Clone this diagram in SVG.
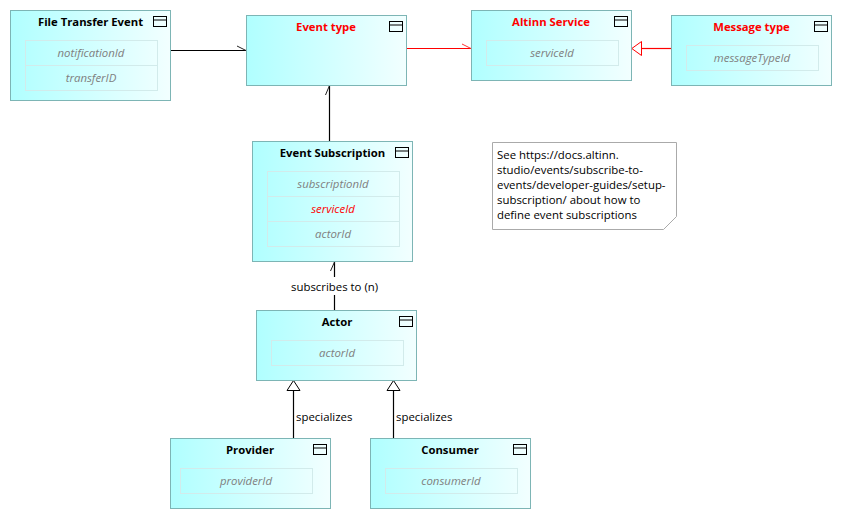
<svg xmlns="http://www.w3.org/2000/svg" width="842" height="519" viewBox="0 0 842 519">
<style>
text{font-family:"Open Sans","Noto Sans","Liberation Sans",sans-serif;font-size:11.4px;fill:#000}
.n{fill:url(#g);stroke:#7db5b5;stroke-width:1}
.a{fill:none;stroke:#d2ebeb;stroke-width:1}
.i{fill:none;stroke:#000;stroke-width:1}
.t{font-weight:700;text-anchor:middle;fill:#000;font-size:11.3px}
.r{fill:#f00}
.v{font-style:italic;text-anchor:middle;fill:#808080}
.c{fill:none;stroke:#000;stroke-width:1.2}
.cr{fill:none;stroke:#f00;stroke-width:1.2}
.h{fill:#fff;stroke:#000;stroke-width:1}
.tick{fill:none;stroke:#222;stroke-width:1}
</style>
<defs>
<linearGradient id="g" x1="0" y1="0" x2="1" y2="0"><stop offset="0" stop-color="#b0ffff"/><stop offset="1" stop-color="#f2ffff"/></linearGradient>
<g id="ic"><rect class="i" x="0" y="0" width="13" height="10"/><line class="i" x1="0" y1="3.5" x2="13" y2="3.5"/></g>
</defs>
<rect width="842" height="519" fill="#fff"/>
<g id="connectors">
<path class="c" d="M170 50.5H246"/><path class="tick" d="M237 46L246 50.5"/>
<path class="c" d="M329.5 141V85.5"/><path class="tick" d="M325.5 95L329.5 85.5"/>
<path class="cr" d="M406 48.5H471"/><path class="tick" style="stroke:#f33" d="M462 44L471 48.5"/>
<path class="cr" d="M641.5 48.5H671"/><path d="M631.8 48.5L641.5 41.5V55.5Z" fill="#fff" stroke="#f00"/>
<path class="c" d="M334.5 310V295M334.5 277V262"/><path class="tick" d="M330.5 271L334.5 262"/>
<path class="c" d="M293.5 438V390.5"/><path class="h" d="M293.5 380.5L287 390.5H300Z"/>
<path class="c" d="M393.5 438V390.5"/><path class="h" d="M393.5 380.5L387 390.5H400Z"/>
<text x="291" y="291">subscribes to (n)</text>
<text x="296" y="421">specializes</text>
<text x="396" y="421">specializes</text>
</g>
<g id="file-transfer-event">
<rect class="n" x="10.5" y="10.5" width="160" height="90"/><use href="#ic" x="153.5" y="16.5"/>
<text class="t" x="90.5" y="26">File Transfer Event</text>
<rect class="a" x="25.5" y="40.5" width="132" height="25"/><rect class="a" x="25.5" y="65.5" width="132" height="25"/>
<text class="v" x="91" y="57">notificationId</text><text class="v" x="91" y="82">transferID</text>
</g>
<g id="event-type">
<rect class="n" x="246.5" y="15.5" width="160" height="70"/><use href="#ic" x="389.5" y="21.5"/>
<text class="t r" x="326" y="31">Event type</text>
</g>
<g id="altinn-service">
<rect class="n" x="471.5" y="10.5" width="160" height="70"/><use href="#ic" x="614.5" y="16.5"/>
<text class="t r" x="551" y="26">Altinn Service</text>
<rect class="a" x="486.5" y="40.5" width="132" height="25"/>
<text class="v" x="552" y="57">serviceId</text>
</g>
<g id="message-type">
<rect class="n" x="671.5" y="15.5" width="160" height="70"/><use href="#ic" x="814.5" y="21.5"/>
<text class="t r" x="751.5" y="31">Message type</text>
<rect class="a" x="686.5" y="45.5" width="132" height="25"/>
<text class="v" x="752" y="62">messageTypeId</text>
</g>
<g id="event-subscription">
<rect class="n" x="252.5" y="141.5" width="160" height="120"/><use href="#ic" x="395.5" y="147.5"/>
<text class="t" x="332.5" y="157">Event Subscription</text>
<rect class="a" x="267.5" y="171.5" width="132" height="25"/><rect class="a" x="267.5" y="196.5" width="132" height="25"/><rect class="a" x="267.5" y="221.5" width="132" height="25"/>
<text class="v" x="333" y="188">subscriptionId</text><text class="v" style="fill:#f00" x="333" y="213">serviceId</text><text class="v" x="333" y="238">actorId</text>
</g>
<g id="actor">
<rect class="n" x="256.5" y="310.5" width="160" height="70"/><use href="#ic" x="399.5" y="316.5"/>
<text class="t" x="337" y="326">Actor</text>
<rect class="a" x="271.5" y="340.5" width="132" height="25"/>
<text class="v" x="337" y="357">actorId</text>
</g>
<g id="provider">
<rect class="n" x="170.5" y="438.5" width="160" height="70"/><use href="#ic" x="313.5" y="444.5"/>
<text class="t" x="250" y="454">Provider</text>
<rect class="a" x="180.5" y="468.5" width="132" height="25"/>
<text class="v" x="246" y="485">providerId</text>
</g>
<g id="consumer">
<rect class="n" x="370.5" y="438.5" width="160" height="70"/><use href="#ic" x="513.5" y="444.5"/>
<text class="t" x="450" y="454">Consumer</text>
<rect class="a" x="385.5" y="468.5" width="132" height="25"/>
<text class="v" x="451" y="485">consumerId</text>
</g>
<g id="note">
<path d="M492.5 142.5H676.5V216.5L663.5 229.5H492.5Z" fill="#fff" stroke="#aaa"/>
<text x="497" y="159">See https://docs.altinn.</text>
<text x="497" y="174">studio/events/subscribe-to-</text>
<text x="497" y="189">events/developer-guides/setup-</text>
<text x="497" y="204">subscription/ about how to</text>
<text x="497" y="219">define event subscriptions</text>
</g>
</svg>
